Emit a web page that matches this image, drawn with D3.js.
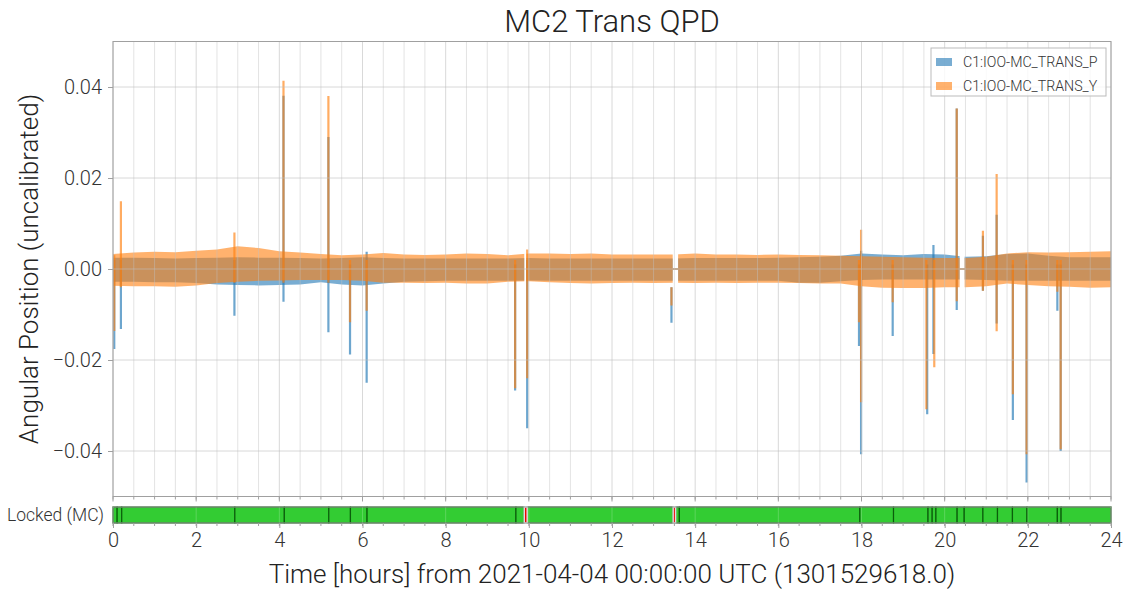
<!DOCTYPE html>
<html>
<head>
<meta charset="utf-8">
<script src="https://cdn.jsdelivr.net/npm/d3@7"></script>
<style>
body{margin:0;background:#fff;}
svg text{font-family:Roboto,"DejaVu Sans",sans-serif;font-weight:300;}
</style>
</head>
<body>
<svg id="chart" width="1126" height="592"></svg>
<script>
// envelope sample times (hours) and band edges (units of 1e-3)
var envT=[0,0.5,1,1.5,2,2.5,3,3.5,4,4.5,5,5.5,6,6.5,7,7.5,8,8.5,9,9.5,10,10.5,11,11.5,12,12.5,13,13.5,14,14.5,15,15.5,16,16.5,17,17.5,18,18.5,19,19.5,20,20.5,21,21.5,22,22.5,23,23.5,24];
var pHi=[2.5,2.5,2.4,2.3,2.4,2.5,2.6,2.5,2.5,2.4, 2.3,2.4,2.6,2.4,2.3,2.3,2.3,2.3,2.3,2.3, 2.4,2.3,2.3,2.3,2.3,2.3,2.3,2.3,2.4,2.4, 2.4,2.4,2.5,2.6,2.7,2.9,3.4,3.2,3.0,3.3, 3.2,2.7,2.8,3.3,3.4,2.9,2.6,2.6,2.6];
var pLo=[-2.8,-2.8,-2.9,-2.9,-3.1,-3.4,-3.5,-3.6,-3.5,-3.4, -2.9,-3.4,-3.6,-3.2,-2.8,-2.7,-2.6,-2.6,-2.6,-2.6, -2.5,-2.6,-2.6,-2.6,-2.6,-2.6,-2.6,-2.6,-2.6,-2.6, -2.6,-2.6,-2.6,-3.0,-3.0,-2.7,-2.4,-2.3,-2.3,-2.3, -2.3,-2.3,-2.4,-2.6,-2.6,-2.6,-2.6,-2.6,-2.6];
var yHi=[3.3,3.6,3.8,3.7,4.0,4.3,5.0,4.6,3.9,3.6, 3.3,3.0,3.2,3.5,3.2,3.1,3.2,3.4,3.3,3.0, 3.4,3.4,3.3,3.4,3.2,3.2,3.2,3.2,3.4,3.2, 3.2,3.1,3.2,3.1,3.0,2.9,2.8,2.7,2.6,2.5, 2.4,2.4,2.7,3.4,3.7,3.6,3.7,3.8,3.9];
var yLo=[-3.7,-3.8,-3.8,-3.9,-3.6,-3.1,-2.8,-2.6,-2.5,-2.4, -2.4,-2.4,-2.6,-3.0,-3.0,-3.1,-3.0,-3.2,-3.2,-2.8, -2.7,-2.9,-3.1,-3.2,-3.1,-3.0,-3.1,-3.0,-3.1,-3.0, -3.1,-3.0,-3.0,-3.1,-3.2,-3.2,-3.8,-4.1,-4.2,-4.2, -4.0,-4.0,-3.8,-3.2,-3.5,-3.8,-3.9,-4.1,-4.0];

// glitches: [hour, low, high]
var spikesP=[[0.03,-0.0176,0.002],[0.19,-0.0132,0.002],[2.92,-0.0103,0.002],[4.10,-0.0072,0.0381],[5.18,-0.0139,0.0290],
  [5.70,-0.0188,0.001],[6.10,-0.0250,0.0038],[9.67,-0.0267,0.001],[9.96,-0.0350,0.002],[13.43,-0.0118,-0.004],
  [17.94,-0.0169,0.001],[17.99,-0.0407,0.004],[18.75,-0.0147,0.001],[19.58,-0.0319,0.001],[19.73,-0.0187,0.0053],
  [20.29,-0.0090,0.0353],[20.92,-0.0048,0.0073],[21.25,-0.0120,0.0119],[21.64,-0.0332,0.001],[21.97,-0.0469,0.001],
  [22.71,-0.0092,0.001],[22.79,-0.0400,0.001]];
var spikesY=[[0.03,-0.0136,0.003],[0.19,-0.004,0.0149],[2.92,-0.003,0.0080],[4.10,-0.003,0.0414],[5.18,-0.003,0.0380],
  [5.70,-0.0117,0.002],[6.10,-0.0092,0.002],[9.67,-0.0262,0.002],[9.96,-0.0240,0.0043],[13.43,-0.0080,-0.004],
  [17.94,-0.0117,0.002],[17.99,-0.0293,0.0086],[18.75,-0.0073,0.002],[19.56,-0.0308,0.002],[19.75,-0.0216,0.002],
  [20.29,-0.0071,0.0353],[20.92,-0.0048,0.0084],[21.25,-0.0137,0.0209],[21.64,-0.0275,0.002],[21.97,-0.0407,0.002],
  [22.71,-0.0050,0.002],[22.79,-0.0396,0.002]];

// where data exists, and flat zero stretches in between
var dataSegs=[[0,9.89],[9.94,13.46],[13.59,20.36],[20.48,24]];
var flatGaps=[[13.46,13.59],[20.36,20.48]];

// state vector segments
var lockSegs=[[0,0.10],[0.10,0.21],[0.21,2.93],[2.93,4.12],[4.12,5.19],[5.19,5.71],[5.71,6.11],[6.11,9.69],[9.69,9.89],
  [9.96,13.47],[13.53,13.62],[13.62,17.96],[17.96,18.77],[18.77,19.60],[19.60,19.70],[19.70,19.79],[19.79,20.30],
  [20.30,20.47],[20.47,20.92],[20.92,21.27],[21.27,21.63],[21.63,21.98],[21.98,22.71],[22.71,22.80],[22.80,24]];
var unlockSegs=[[9.89,9.96],[13.47,13.53]];

var xTicks=[0,2,4,6,8,10,12,14,16,18,20,22,24];
var yTicks=[-0.04,-0.02,0,0.02,0.04];
var seriesNames=['C1:IOO-MC_TRANS_P','C1:IOO-MC_TRANS_Y'];
var seriesColors=['#1f77b4','#ff7f0e'];

var drawChart=function(){
  var svg=d3.select('#chart');
  var pl=113,pr=1111,pt=41.5,pb=496.5;
  var barTop=507,barBot=523;

  var x=d3.scaleLinear().domain([0,24]).range([pl,pr]);
  var y=d3.scaleLinear().domain([-0.05,0.05]).range([pb,pt]);
  var xMinor=d3.range(0,24.001,0.5);

  var defs=svg.append('defs');
  defs.append('clipPath').attr('id','segclip')
    .selectAll('rect').data(dataSegs).enter().append('rect')
    .attr('x',function(d){return x(d[0]);})
    .attr('width',function(d){return x(d[1])-x(d[0]);})
    .attr('y',pt).attr('height',pb-pt);
  defs.append('clipPath').attr('id','plotclip').append('rect')
    .attr('x',pl).attr('y',pt).attr('width',pr-pl).attr('height',pb-pt);

  var plot=svg.append('g').attr('id','plot');

  var band=function(lo,hi){
    return d3.area()
      .x(function(d,i){return x(envT[i]);})
      .y0(function(d,i){return y(lo[i]/1000);})
      .y1(function(d,i){return y(hi[i]/1000);})(envT);
  };

  var drawSeries=function(lo,hi,spikes,color){
    var g=plot.append('g').attr('clip-path','url(#plotclip)');
    g.append('path').attr('d',band(lo,hi))
      .attr('clip-path','url(#segclip)')
      .attr('fill',color).attr('fill-opacity',0.6);
    g.selectAll('line.spike').data(spikes).enter().append('line')
      .attr('class','spike')
      .attr('x1',function(d){return x(d[0]);})
      .attr('x2',function(d){return x(d[0]);})
      .attr('y1',function(d){return y(d[1]);})
      .attr('y2',function(d){return y(d[2]);})
      .attr('stroke',color).attr('stroke-width',2.2).attr('stroke-opacity',0.65);
    g.selectAll('line.flat').data(flatGaps).enter().append('line')
      .attr('class','flat')
      .attr('x1',function(d){return x(d[0]);})
      .attr('x2',function(d){return x(d[1]);})
      .attr('y1',y(0)).attr('y2',y(0))
      .attr('stroke',color).attr('stroke-width',1.5).attr('stroke-opacity',0.6);
  };
  drawSeries(pLo,pHi,spikesP,seriesColors[0]);
  drawSeries(yLo,yHi,spikesY,seriesColors[1]);

  // grid on top of the data, like the original
  var grid=plot.append('g').attr('id','grid');
  grid.selectAll('line.vx').data(xMinor).enter().append('line')
    .attr('class','vx')
    .attr('x1',function(d){return x(d);}).attr('x2',function(d){return x(d);})
    .attr('y1',pt).attr('y2',pb)
    .attr('stroke','#c0c0c0').attr('stroke-opacity',function(d){return d%2===0?0.6:0.45;});
  grid.selectAll('line.hy').data(yTicks).enter().append('line')
    .attr('class','hy')
    .attr('x1',pl).attr('x2',pr)
    .attr('y1',function(d){return y(d);}).attr('y2',function(d){return y(d);})
    .attr('stroke','#c0c0c0').attr('stroke-opacity',0.6);

  plot.append('rect').attr('x',pl).attr('y',pt).attr('width',pr-pl).attr('height',pb-pt)
    .attr('fill','none').attr('stroke','#a0a0a0');

  // axes
  var yAxis=d3.axisLeft(y).tickValues(yTicks).tickFormat(d3.format('.2f')).tickSize(5).tickPadding(6);
  var yGroup=svg.append('g').attr('transform','translate('+pl+',0)').call(yAxis);
  yGroup.select('.domain').remove();
  yGroup.selectAll('line').attr('stroke','#a0a0a0');
  yGroup.selectAll('text').attr('font-size',20).attr('fill','#333');

  var tickMarks=function(g,y0,len,vals){
    g.selectAll(null).data(vals).enter().append('line')
      .attr('x1',function(d){return x(d);}).attr('x2',function(d){return x(d);})
      .attr('y1',y0).attr('y2',y0+len).attr('stroke','#a0a0a0');
  };
  var tg=svg.append('g');
  tickMarks(tg,pb,3,xMinor);
  tickMarks(tg,pb,5,xTicks);

  // state bar
  var sb=svg.append('g').attr('id','state');
  sb.selectAll('rect.on').data(lockSegs).enter().append('rect')
    .attr('class','on')
    .attr('x',function(d){return x(d[0]);})
    .attr('width',function(d){return x(d[1])-x(d[0]);})
    .attr('y',barTop).attr('height',barBot-barTop)
    .attr('fill','#33cc33').attr('stroke','#0b5e0b').attr('stroke-width',1.2);
  sb.selectAll('rect.off').data(unlockSegs).enter().append('rect')
    .attr('class','off')
    .attr('x',function(d){return x(d[0]);})
    .attr('width',function(d){return x(d[1])-x(d[0]);})
    .attr('y',barTop).attr('height',barBot-barTop)
    .attr('fill','#ee0000').attr('stroke','#dddddd').attr('stroke-width',1.5);
  sb.selectAll('line.g').data(xTicks.slice(1,-1)).enter().append('line')
    .attr('class','g')
    .attr('x1',function(d){return x(d);}).attr('x2',function(d){return x(d);})
    .attr('y1',barTop).attr('y2',barBot)
    .attr('stroke','#ffffff').attr('stroke-opacity',0.2);
  sb.append('rect').attr('x',pl).attr('y',barTop).attr('width',pr-pl).attr('height',barBot-barTop)
    .attr('fill','none').attr('stroke','#a0a0a0');
  sb.append('text').attr('x',104).attr('y',(barTop+barBot)/2).attr('dy','0.35em')
    .attr('text-anchor','end').attr('font-size',17.5).attr('fill','#333').text('Locked (MC)');

  var xAxis=d3.axisBottom(x).tickValues(xTicks).tickFormat(d3.format('d')).tickSize(5).tickPadding(5);
  var xGroup=svg.append('g').attr('transform','translate(0,'+barBot+')').call(xAxis);
  xGroup.select('.domain').remove();
  xGroup.selectAll('line').attr('stroke','#a0a0a0');
  xGroup.selectAll('text').attr('font-size',20).attr('fill','#333');
  tickMarks(svg.append('g'),barBot,3,xMinor);

  // labels
  svg.append('text').attr('x',(pl+pr)/2).attr('y',32).attr('text-anchor','middle')
    .attr('font-size',31).attr('fill','#222').text('MC2 Trans QPD');
  svg.append('text').attr('x',(pl+pr)/2).attr('y',583).attr('text-anchor','middle')
    .attr('font-size',26).attr('fill','#222').text('Time [hours] from 2021-04-04 00:00:00 UTC (1301529618.0)');
  svg.append('text').attr('transform','translate(38,'+((pt+pb)/2)+')rotate(-90)')
    .attr('text-anchor','middle').attr('font-size',26).attr('fill','#222').text('Angular Position (uncalibrated)');

  // legend
  var lg=svg.append('g').attr('transform','translate(931,48)');
  lg.append('rect').attr('width',175).attr('height',48).attr('fill','#fff').attr('fill-opacity',0.8).attr('stroke','#bbb');
  var items=lg.selectAll('g.item').data(seriesNames).enter().append('g').attr('class','item')
    .attr('transform',function(d,i){return 'translate(0,'+(12+i*24)+')';});
  items.append('rect').attr('x',5).attr('y',-2).attr('width',16).attr('height',8)
    .attr('fill',function(d,i){return seriesColors[i];}).attr('fill-opacity',0.6);
  items.append('text').attr('x',32).attr('y',2).attr('dy','0.35em').attr('font-size',14.2).attr('fill','#333')
    .text(function(d){return d;});
};
drawChart();
</script>
</body>
</html>
